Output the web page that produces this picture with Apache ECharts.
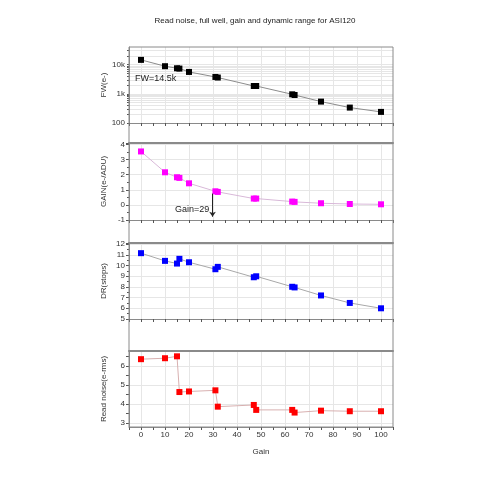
<!DOCTYPE html>
<html>
<head>
<meta charset="utf-8">
<script src="https://cdn.jsdelivr.net/npm/echarts@6/dist/echarts.min.js"></script>
<style>
  html, body { margin: 0; padding: 0; background: #fff; }
  #chart { width: 480px; height: 480px; }
</style>
</head>
<body>
<div id="chart"></div>
<script>
// gain setting (x)
const gain = [0, 10, 15, 16, 20, 31, 32, 47, 48, 63, 64, 75, 87, 100];
// full well (e-), log scale
const fullWell = [14500, 8800, 7470, 7300, 5600, 3770, 3600, 1850, 1850, 960, 910, 540, 337, 240];
// gain (e-/ADU)
const gainEAdu = [3.54, 2.16, 1.83, 1.79, 1.43, 0.90, 0.86, 0.42, 0.42, 0.22, 0.20, 0.11, 0.06, 0.04];
// dynamic range (stops)
const dynRange = [11.15, 10.43, 10.18, 10.62, 10.30, 9.65, 9.87, 8.90, 8.99, 8.01, 7.95, 7.20, 6.50, 6.00];
// read noise (e-rms)
const readNoise = [6.37, 6.42, 6.52, 4.64, 4.67, 4.73, 3.87, 3.96, 3.70, 3.70, 3.56, 3.66, 3.63, 3.63];
// ticks of the FW (log) panel
const fwTicks = [100, 200, 300, 400, 500, 600, 700, 800, 900,
  1000, 2000, 3000, 4000, 5000, 6000, 7000, 8000, 9000, 10000, 20000, 30000];
const fwLabels = [100, 1000, 10000];
const logNames = { 100: "100", 1000: "1k", 10000: "10k" };
// ticks of the read noise panel
const rnTicks = [3, 3.5, 4, 4.5, 5, 5.5, 6, 6.5];
const rnLabels = [3, 4, 5, 6];

const font = "Liberation Sans, Arial, sans-serif";
const frame = "#8a8a8a";
const gridCol = "#e6e6e6";

const pairs = (ys) => gain.map((g, i) => [g, ys[i]]);

const panels = [
  { top: 47, height: 76 },
  { top: 143, height: 77 },
  { top: 243, height: 76 },
  { top: 351, height: 76 },
];

let grids = panels.map((p) => ({ left: 129, right: 87, top: p.top, height: p.height }));

let xAxes = [];
panels.forEach((p, i) => {
  xAxes.push({
    type: "value",
    gridIndex: i,
    position: "bottom",
    min: -5,
    max: 105,
    interval: 5,
    name: i === 3 ? "Gain" : "",
    nameLocation: "middle",
    nameGap: 21,
    nameTextStyle: { fontFamily: font, fontSize: 8, color: "#333" },
    axisLine: { onZero: false, lineStyle: { color: frame, width: 1 } },
    axisTick: { inside: false, length: 3, lineStyle: { color: "#555" } },
    axisLabel: {
      show: i === 3,
      fontFamily: font,
      fontSize: 8,
      color: "#333",
      margin: 4,
      formatter: (v) => (v % 10 === 0 && v >= 0 && v <= 100 ? v : ""),
    },
    splitLine: { show: true, lineStyle: { color: ["transparent", gridCol], width: 1 } },
  });
  if (i > 0) {
    xAxes.push({
      type: "value",
      gridIndex: i,
      position: "top",
      min: -5,
      max: 105,
      axisLine: { onZero: false, lineStyle: { color: frame, width: 2 } },
      axisTick: { show: false },
      axisLabel: { show: false },
      splitLine: { show: false },
    });
  }
});

const yCommon = {
  nameLocation: "middle",
  nameGap: 21,
  nameMoveOverlap: false,
  nameTextStyle: { fontFamily: font, fontSize: 8, color: "#333" },
  axisLine: { show: true, onZero: false, lineStyle: { color: frame } },
  axisTick: { show: true, inside: false, length: 3, lineStyle: { color: "#555" } },
  minorTick: { show: true, splitNumber: 2, length: 2, lineStyle: { color: "#555" } },
  axisLabel: { fontFamily: font, fontSize: 8, color: "#333", margin: 4 },
  splitLine: { show: true, lineStyle: { color: gridCol } },
};

let yAxes = [
  {
    ...yCommon,
    type: "log",
    gridIndex: 0,
    name: "FW(e-)",
    min: 100,
    max: 40000,
    minorTick: { show: false },
    axisTick: { ...yCommon.axisTick, length: 2, customValues: fwTicks },
    axisLabel: { ...yCommon.axisLabel, customValues: fwLabels, formatter: (v) => logNames[v] || "" },
  },
  { ...yCommon, type: "value", gridIndex: 1, name: "GAIN(e-/ADU)", min: -1, max: 4.1, interval: 1,
    axisLabel: { ...yCommon.axisLabel, formatter: (v) => (Number.isInteger(v) ? v : "") } },
  { ...yCommon, type: "value", gridIndex: 2, name: "DR(stops)", min: 5, max: 12.1, interval: 1,
    axisLabel: { ...yCommon.axisLabel, formatter: (v) => (Number.isInteger(v) ? v : "") } },
  { ...yCommon, type: "value", gridIndex: 3, name: "Read noise(e-rms)", min: 2.8, max: 6.8,
    minorTick: { show: false },
    axisTick: { ...yCommon.axisTick, customValues: rnTicks },
    axisLabel: { ...yCommon.axisLabel, customValues: rnLabels },
    splitLine: { show: true, lineStyle: { color: [gridCol, "transparent"] } } },
];

function series(idx, xIdx, data, color, lineColor) {
  return {
    type: "line",
    xAxisIndex: xIdx,
    yAxisIndex: idx,
    data: pairs(data),
    symbol: "rect",
    symbolSize: 6,
    itemStyle: { color: color },
    lineStyle: { color: lineColor, width: 1 },
    silent: true,
    z: 3,
  };
}

let s1 = series(0, 0, fullWell, "#000000", "#8c8c8c");
let s2 = series(1, 2, gainEAdu, "#ff00ff", "#d8b8d8");
s2.markLine = {
  silent: true,
  symbol: ["none", "arrow"],
  symbolSize: 5,
  label: { show: false },
  lineStyle: { color: "#222", type: "solid", width: 1 },
  data: [[{ coord: [29.8, 0.75] }, { coord: [29.8, -0.78] }]],
};
let s3 = series(2, 4, dynRange, "#0000ff", "#a8a8a8");
let s4 = series(3, 6, readNoise, "#ff0000", "#d8b0b0");

let myChart = echarts.init(document.getElementById("chart"), null, { renderer: "canvas" });
myChart.setOption({
  animation: false,
  title: {
    text: "Read noise, full well, gain and dynamic range for ASI120",
    left: 250,
    textAlign: "center",
    top: 12,
    textStyle: { fontFamily: font, fontSize: 8, fontWeight: "normal", color: "#222" },
  },
  grid: grids,
  xAxis: xAxes,
  yAxis: yAxes,
  series: [s1, s2, s3, s4],
  graphic: [
    {
      type: "rect",
      shape: { x: 129, y: 47, width: 264, height: 380 },
      style: { fill: "none", stroke: frame, lineWidth: 1 },
      silent: true,
      z: 10,
    },
    {
      type: "text",
      left: 135,
      top: 74,
      style: { text: "FW=14.5k", fontFamily: font, fontSize: 9, fill: "#222" },
      z: 10,
    },
    {
      type: "text",
      left: 175,
      top: 205,
      style: { text: "Gain=29", fontFamily: font, fontSize: 9, fill: "#222" },
      z: 10,
    },
  ],
});
</script>
</body>
</html>
